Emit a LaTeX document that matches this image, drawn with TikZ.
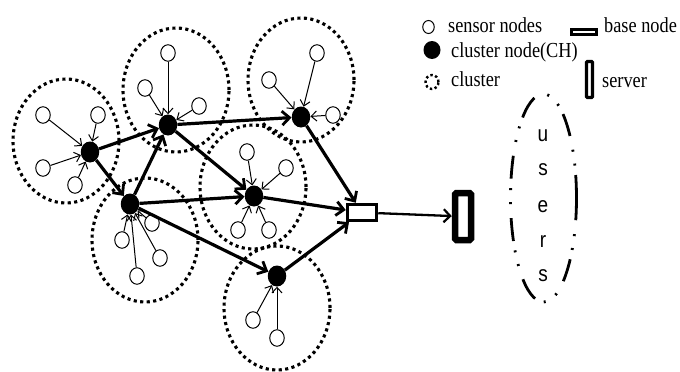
\documentclass[tikz,border=0pt]{standalone}
\usepackage{fontspec}
\setmainfont{Liberation Serif}
\newfontfamily\usersfont{Liberation Sans}
\usetikzlibrary{arrows.meta,shapes.geometric}

\tikzset{
  cluster/.style={ellipse, draw, line width=3.1pt, dash pattern=on 3.1pt off 3.4pt,
    minimum width=106pt, minimum height=124pt, inner sep=0pt},
  sensor/.style={ellipse, draw, line width=1pt, minimum width=14.5pt,
    minimum height=16.5pt, inner sep=0pt, fill=white},
  chnode/.style={ellipse, fill=black, minimum width=18.5pt, minimum height=21pt, inner sep=0pt},
  sarrow/.style={line width=1pt, -{Straight Barb[length=5.5pt,width=10pt,line width=1pt]}},
  bigarrow/.style={line width=3.2pt, -{Straight Barb[length=7.5pt,width=14pt,line width=2.8pt]}},
  legtext/.style={anchor=base west, inner sep=0pt, yscale=1.17,
    font=\fontsize{18.3}{20}\selectfont},
  userletter/.style={inner sep=0pt, yscale=1.17, font=\usersfont\fontsize{19}{20}\selectfont},
}

\begin{document}
\begin{tikzpicture}[x=1pt,y=-1pt]
\useasboundingbox[fill=white] (0,0) rectangle (680,372);

% cluster boundaries
\node[cluster] (kA) at (66,141) {};
\node[cluster] (kB) at (176,90) {};
\node[cluster] (kC) at (301,80) {};
\node[cluster] (kD) at (253,187) {};
\node[cluster] (kE) at (145,240) {};
\node[cluster] (kF) at (277,308) {};

% cluster heads
\node[chnode] (A) at (90,152) {};
\node[chnode] (B) at (168,125) {};
\node[chnode] (C) at (301,117) {};
\node[chnode] (D) at (254,196) {};
\node[chnode] (E) at (130,204) {};
\node[chnode] (F) at (277,276) {};

% sensor nodes
\node[sensor] (a1) at (43,115) {};
\node[sensor] (a2) at (98,115) {};
\node[sensor] (a3) at (43,168) {};
\node[sensor] (a4) at (75,185) {};
\node[sensor] (b1) at (168,53) {};
\node[sensor] (b2) at (145,88) {};
\node[sensor] (b3) at (199,106) {};
\node[sensor] (c1) at (317,53) {};
\node[sensor] (c2) at (269,80) {};
\node[sensor] (c3) at (333,115) {};
\node[sensor] (d1) at (247,152) {};
\node[sensor] (d2) at (286,168) {};
\node[sensor] (d3) at (238,230) {};
\node[sensor] (d4) at (269,230) {};
\node[sensor] (e1) at (152,223) {};
\node[sensor] (e2) at (122,240) {};
\node[sensor] (e3) at (137,276) {};
\node[sensor] (e4) at (160,258) {};
\node[sensor] (f1) at (253,320) {};
\node[sensor] (f2) at (277,338) {};

% sensor to cluster head links
\foreach \s in {a1,a2,a3,a4} \draw[sarrow] (\s) -- (A);
\foreach \s in {b1,b2,b3} \draw[sarrow] (\s) -- (B);
\foreach \s in {c1,c2,c3} \draw[sarrow] (\s) -- (C);
\foreach \s in {d1,d2,d3,d4} \draw[sarrow] (\s) -- (D);
\foreach \s in {e1,e2,e3,e4} \draw[sarrow] (\s) -- (E);
\foreach \s in {f1,f2} \draw[sarrow] (\s) -- (F);

% base node and server
\node[draw, line width=3.5pt, minimum width=29pt, minimum height=16pt, inner sep=0pt, fill=white]
  (base) at (362,212.5) {};
\node[draw, line width=6.5pt, rounded corners=1.5pt, minimum width=16pt, minimum height=47pt,
  inner sep=0pt] (server) at (463,216.5) {};

% multi-hop routes between cluster heads
\draw[bigarrow] (A) -- (B);
\draw[bigarrow] (A) -- (E);
\draw[bigarrow] (E) -- (B);
\draw[bigarrow] (B) -- (C);
\draw[bigarrow] (B) -- (D);
\draw[bigarrow] (E) -- (D);
\draw[bigarrow] (E) -- (F);
\draw[bigarrow] (C) -- (base);
\draw[bigarrow] (D) -- (base);
\draw[bigarrow] (F) -- (base);
\draw[line width=2.3pt, -{Straight Barb[length=6.5pt,width=13pt,line width=2.2pt]}] (base) -- (server);

% users
\node[ellipse, draw, line width=2.8pt,
  dash pattern=on 23pt off 9.5pt on 2pt off 12pt on 2pt off 14pt,
  minimum width=66pt, minimum height=208pt, inner sep=0pt] (users) at (543.5,198) {};
\node[userletter] (u1) at (543,136) {u};
\node[userletter] (u2) at (543,170) {s};
\node[userletter] (u3) at (543,207) {e};
\node[userletter] (u4) at (543,242) {r};
\node[userletter] (u5) at (543,276) {s};

% legend
\node[ellipse, draw, line width=1pt, minimum width=11.5pt, minimum height=13pt, inner sep=0pt]
  (lgS) at (428.5,27) {};
\node[legtext] (lgSt) at (448,32) {sensor nodes};
\node[ellipse, fill=black, minimum width=17pt, minimum height=18pt, inner sep=0pt]
  (lgC) at (432,50) {};
\node[legtext] (lgCt) at (451,57) {cluster node(CH)};
\node[ellipse, draw, line width=2.4pt, dash pattern=on 2.4pt off 2.5pt,
  minimum width=13pt, minimum height=14pt, inner sep=0pt] (lgK) at (432,82) {};
\node[legtext] (lgKt) at (451,86) {cluster};
\node[draw, line width=3.3pt, minimum width=25pt, minimum height=5pt, inner sep=0pt]
  (lgB) at (584,32) {};
\node[legtext] (lgBt) at (604,32) {base node};
\node[draw, line width=3.3pt, rounded corners=1pt, minimum width=6pt, minimum height=36pt, inner sep=0pt]
  (lgV) at (589.5,79.5) {};
\node[legtext] (lgVt) at (602,87) {server};
\end{tikzpicture}
\end{document}
